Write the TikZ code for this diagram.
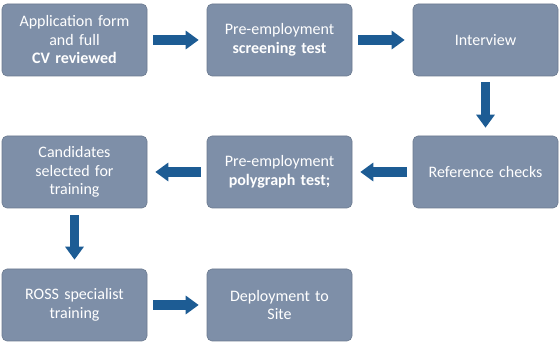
\documentclass[tikz,border=0pt]{standalone}
\usepackage{fontspec}
\setmainfont{Carlito}
\usetikzlibrary{arrows.meta}
\definecolor{boxfill}{RGB}{126,143,168}
\definecolor{arrowblue}{RGB}{29,92,148}
\begin{document}
\begin{tikzpicture}[x=1pt,y=1pt,
  stepbox/.style={draw=boxfill!85!black, line width=0.6pt, fill=boxfill, rounded corners=5pt,
    minimum width=145pt, minimum height=72pt, inner sep=2pt,
    text=white, align=center, font=\fontsize{16}{18.5}\selectfont, text width=140pt},
  blockarrow/.style={draw=arrowblue, line width=9.5pt,
    -{Triangle[width=18pt,length=13pt]}, shorten <=6pt, shorten >=8pt}]
\useasboundingbox (0,0) rectangle (560,345);
\node[stepbox] (app) at (74.5,305) {Application form\\and full\\\textbf{CV reviewed}};
\node[stepbox] (screen) at (279.5,305) {Pre-employment\\\textbf{screening test}};
\node[stepbox] (inter) at (485.5,305) {Interview};
\node[stepbox] (ref) at (485.5,173) {Reference checks};
\node[stepbox] (poly) at (279.5,173) {Pre-employment\\\textbf{polygraph test;}};
\node[stepbox] (cand) at (74.5,173) {Candidates\\selected for\\training};
\node[stepbox] (ross) at (74.5,40) {ROSS specialist\\training};
\node[stepbox] (deploy) at (279.5,40) {Deployment to\\Site};
\draw[blockarrow] (app) -- (screen);
\draw[blockarrow] (screen) -- (inter);
\draw[blockarrow] (inter) -- (ref);
\draw[blockarrow] (ref) -- (poly);
\draw[blockarrow] (poly) -- (cand);
\draw[blockarrow, shorten <=7pt, shorten >=9pt] (cand) -- (ross);
\draw[blockarrow] (ross) -- (deploy);
\end{tikzpicture}
\end{document}
